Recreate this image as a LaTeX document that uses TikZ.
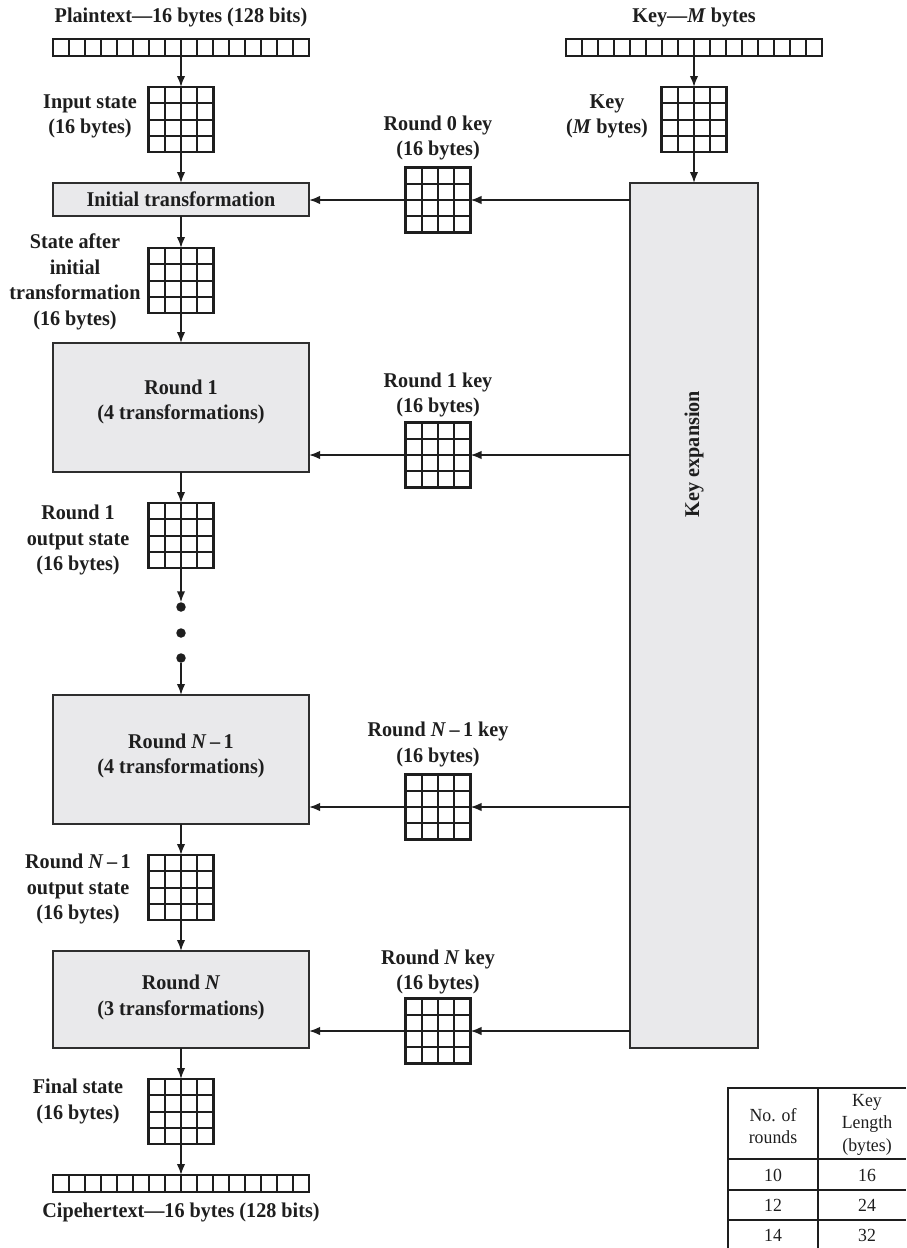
\documentclass[tikz,border=0pt]{standalone}
\usepackage{fontspec}
\setmainfont{Liberation Serif}[FakeStretch=0.96]
\usetikzlibrary{arrows.meta,calc}
\definecolor{boxfill}{HTML}{E9E9EB}
\definecolor{ink}{HTML}{1E1E1E}
\definecolor{boxline}{HTML}{2E2E2E}
\tikzset{
 gridlines/.style={path picture={
   \foreach \f in {0.25,0.5,0.75}{
     \draw[ink,line width=2pt] ($(path picture bounding box.north west)!\f!(path picture bounding box.north east)$) -- ($(path picture bounding box.south west)!\f!(path picture bounding box.south east)$);
     \draw[ink,line width=2pt] ($(path picture bounding box.north west)!\f!(path picture bounding box.south west)$) -- ($(path picture bounding box.north east)!\f!(path picture bounding box.south east)$);
   }}},
 barlines/.style={path picture={
   \foreach \i in {1,...,15}{
     \draw[ink,line width=2pt] ($(path picture bounding box.north west)!\i/16!(path picture bounding box.north east)$) -- ($(path picture bounding box.south west)!\i/16!(path picture bounding box.south east)$);
   }}},
 gridbox/.style={draw=ink, line width=2.1pt, minimum width=65pt, minimum height=65pt, inner sep=0pt, outer sep=0pt, gridlines},
 barbox/.style={draw=ink, line width=2.1pt, minimum width=256pt, minimum height=17pt, inner sep=0pt, outer sep=0pt, barlines},
 stagebox/.style={draw=boxline, fill=boxfill, line width=2.1pt, minimum width=256pt, inner sep=0pt, outer sep=0pt},
 lbl/.style={font=\fontsize{21}{25.5}\selectfont\bfseries, align=center, inner sep=0pt, text=ink},
 tbltxt/.style={font=\fontsize{18.5}{22.5}\selectfont, align=center, inner sep=0pt, text=ink},
 arr/.style={draw=ink, line width=1.8pt, -{Latex[length=11pt,width=8.5pt]}},
 tblline/.style={draw=ink, line width=1.9pt},
 dotnode/.style={circle, fill=ink, minimum size=9.5pt, inner sep=0pt, outer sep=0pt},
}
\begin{document}
\begin{tikzpicture}[x=1pt,y=-1pt]
\useasboundingbox (0,0) rectangle (906,1248);

% ---------- left column ----------
\node[lbl] (ptitle) at (181,17) {Plaintext—16 bytes (128 bits)};
\node[barbox] (pbar) at (181,47.5) {};
\node[gridbox] (instate) at (181,119.5) {};
\node[lbl] (instatelbl) at (90,116.5) {Input state\\(16 bytes)};

\node[stagebox, minimum height=33pt] (init) at (181,199.5) {};
\node[lbl] (inittxt) at (181,199.5) {Initial transformation};

\node[gridbox] (after) at (181,280.5) {};
\node[lbl] (afterlbl) at (75,282) {State after\\initial\\transformation\\(16 bytes)};

\node[stagebox, minimum height=129pt] (r1) at (181,407.5) {};
\node[lbl] (r1txt) at (181,402) {Round 1\\(4 transformations)};

\node[gridbox] (r1out) at (181,535.5) {};
\node[lbl] (r1outlbl) at (78,540) {Round 1\\output state\\(16 bytes)};

\node[dotnode] (d1) at (181,607) {};
\node[dotnode] (d2) at (181,633) {};
\node[dotnode] (d3) at (181,658) {};

\node[stagebox, minimum height=129pt] (rn1) at (181,759.5) {};
\node[lbl] (rn1txt) at (181,756) {Round \textit{N}\,–\,1\\(4 transformations)};

\node[gridbox] (rn1out) at (181,887.5) {};
\node[lbl] (rn1outlbl) at (78,889) {Round \textit{N}\,–\,1\\output state\\(16 bytes)};

\node[stagebox, minimum height=97pt] (rn) at (181,999.5) {};
\node[lbl] (rntxt) at (181,997.5) {Round \textit{N}\\(3 transformations)};

\node[gridbox] (final) at (181,1111.5) {};
\node[lbl] (finallbl) at (78,1101.5) {Final state\\(16 bytes)};

\node[barbox] (cbar) at (181,1183.5) {};
\node[lbl] (ctitle) at (181,1212) {Cipehertext—16 bytes (128 bits)};

% ---------- key column ----------
\node[lbl] (ktitle) at (694,17) {Key—\textit{M} bytes};
\node[barbox] (kbar) at (694,47.5) {};
\node[gridbox] (kgrid) at (694,119.5) {};
\node[lbl] (kgridlbl) at (607,116.5) {Key\\(\textit{M} bytes)};

\node[stagebox, minimum width=128pt, minimum height=865pt] (kexp) at (694,615.5) {};
\node[lbl, rotate=90] (kexptxt) at (694,454) {Key expansion};

% ---------- round keys ----------
\node[gridbox] (k0) at (438,200) {};
\node[lbl] (k0lbl) at (438,138) {Round 0 key\\(16 bytes)};
\node[gridbox] (k1) at (438,455) {};
\node[lbl] (k1lbl) at (438,395) {Round 1 key\\(16 bytes)};
\node[gridbox] (kn1) at (438,807) {};
\node[lbl] (kn1lbl) at (438,744.5) {Round \textit{N}\,–\,1 key\\(16 bytes)};
\node[gridbox] (kn) at (438,1031) {};
\node[lbl] (knlbl) at (438,972) {Round \textit{N} key\\(16 bytes)};

% ---------- connectors ----------
\draw[arr] (pbar.south) -- (instate.north);
\draw[arr] (instate.south) -- (init.north);
\draw[arr] (init.south) -- (after.north);
\draw[arr] (after.south) -- (r1.north);
\draw[arr] (r1.south) -- (r1out.north);
\draw[arr] (r1out.south) -- (d1.north);
\draw[arr] (d3.south) -- (rn1.north);
\draw[arr] (rn1.south) -- (rn1out.north);
\draw[arr] (rn1out.south) -- (rn.north);
\draw[arr] (rn.south) -- (final.north);
\draw[arr] (final.south) -- (cbar.north);

\draw[arr] (kbar.south) -- (kgrid.north);
\draw[arr] (kgrid.south) -- (kexp.north);

\draw[arr] (k0.east -| kexp.west) -- (k0.east);
\draw[arr] (k0.west) -- (k0.west -| init.east);
\draw[arr] (k1.east -| kexp.west) -- (k1.east);
\draw[arr] (k1.west) -- (k1.west -| r1.east);
\draw[arr] (kn1.east -| kexp.west) -- (kn1.east);
\draw[arr] (kn1.west) -- (kn1.west -| rn1.east);
\draw[arr] (kn.east -| kexp.west) -- (kn.east);
\draw[arr] (kn.west) -- (kn.west -| rn.east);

% ---------- table ----------
\draw[tblline] (906,1088) -- (728,1088) -- (728,1248);
\draw[tblline] (818,1088) -- (818,1248);
\draw[tblline] (728,1159) -- (906,1159);
\draw[tblline] (728,1190) -- (906,1190);
\draw[tblline] (728,1220) -- (906,1220);
\node[tbltxt] (th1) at (773,1126) {No. of\\rounds};
\node[tbltxt] (th2) at (867,1124.5) {Key\\Length\\(bytes)};
\node[tbltxt] (c11) at (773,1175) {10};
\node[tbltxt] (c12) at (867,1175) {16};
\node[tbltxt] (c21) at (773,1205) {12};
\node[tbltxt] (c22) at (867,1205) {24};
\node[tbltxt] (c31) at (773,1235) {14};
\node[tbltxt] (c32) at (867,1235) {32};
\end{tikzpicture}
\end{document}
